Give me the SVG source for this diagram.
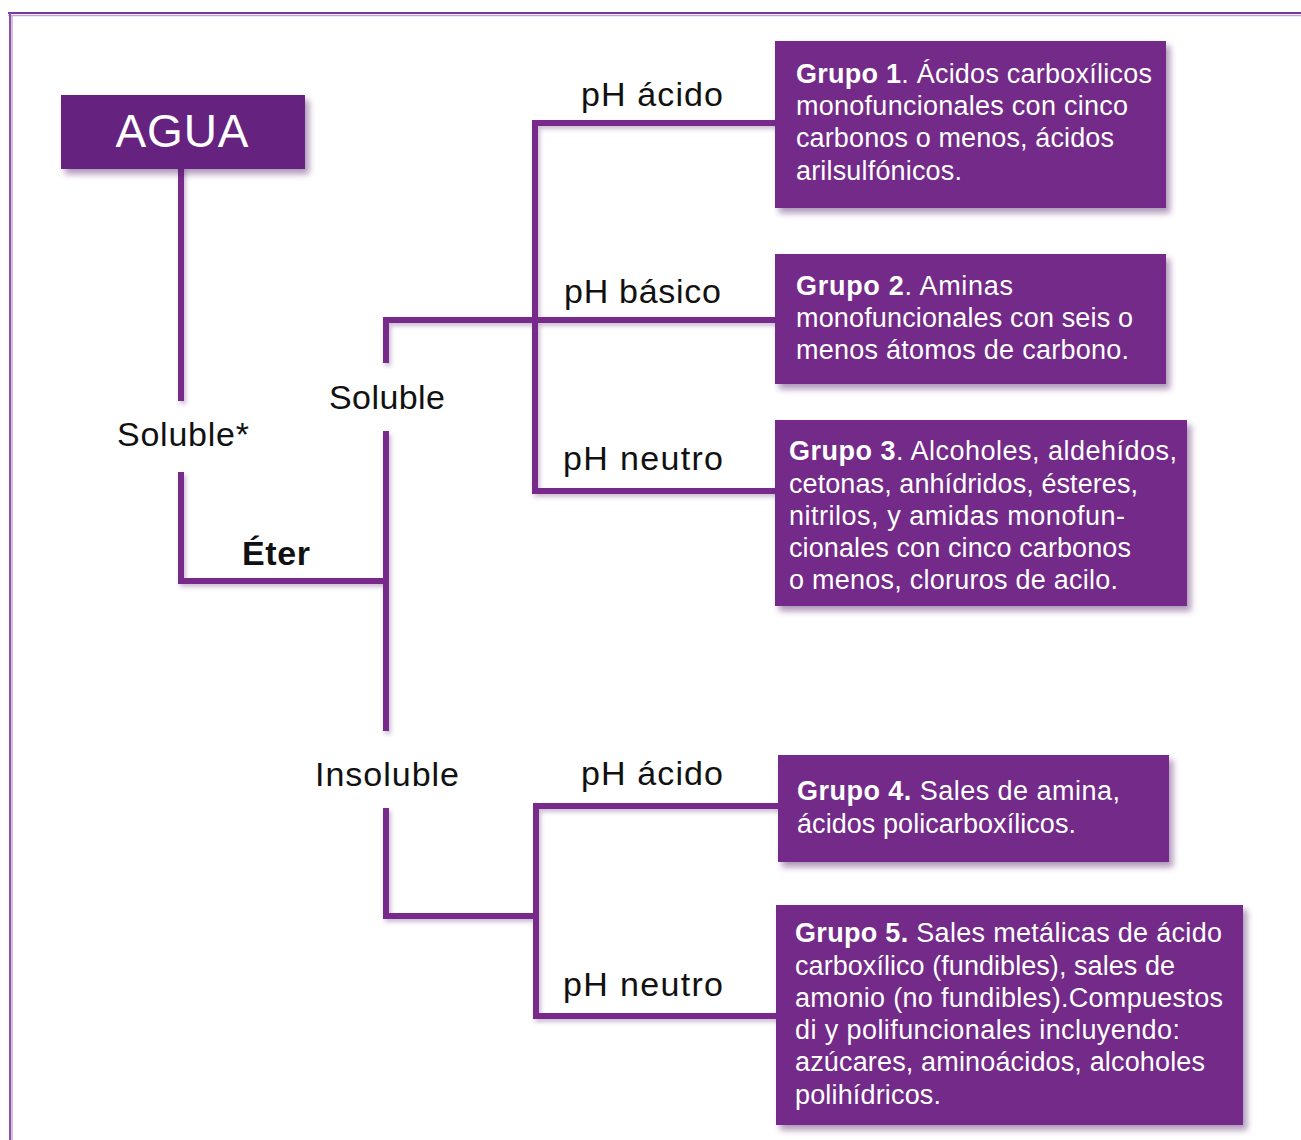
<svg xmlns="http://www.w3.org/2000/svg" width="1301" height="1140" viewBox="0 0 1301 1140">
<defs>
<filter id="sh" x="-10%" y="-10%" width="125%" height="130%">
<feDropShadow dx="4" dy="5" stdDeviation="3" flood-color="#4a1a60" flood-opacity="0.45"/>
</filter>
<filter id="lsh" x="-20%" y="-20%" width="140%" height="140%">
<feDropShadow dx="2" dy="3" stdDeviation="2" flood-color="#6a3a80" flood-opacity="0.35"/>
</filter>
<style>
.box{fill:#732a88;filter:url(#sh)}
.agua{fill:#66237f;filter:url(#sh)}
.bt{font-family:"Liberation Sans",Arial,sans-serif;font-size:27px;fill:#ffffff}
.b{font-weight:700}
.lbl{font-family:"Liberation Sans",Arial,sans-serif;font-size:34px;fill:#111111}
.ln{fill:none;stroke:#782a8b;stroke-width:6;stroke-linecap:square;stroke-linejoin:miter}
</style>
</defs>
<rect x="0" y="0" width="1301" height="1140" fill="#ffffff"/>
<g id="frame">
<line x1="8" y1="13" x2="1301" y2="13" stroke="#7a3a98" stroke-width="2"/>
<line x1="8" y1="15.5" x2="1301" y2="15.5" stroke="#c3a3d3" stroke-width="1.5"/>
<line x1="10" y1="13" x2="10" y2="1140" stroke="#8a52a8" stroke-width="2"/>
<line x1="12" y1="15" x2="12" y2="1140" stroke="#c9aad8" stroke-width="1.5"/>
</g>
<g id="connectors" filter="url(#lsh)">
<path class="ln" d="M181 169 V398"/>
<path class="ln" d="M181 475 V581 H386"/>
<path class="ln" d="M386 434 V728"/>
<path class="ln" d="M386 360 V320 H773"/>
<path class="ln" d="M773 123 H535 V491 H773"/>
<path class="ln" d="M386 811 V916 H536"/>
<path class="ln" d="M776 806 H536 V1016 H776"/>
</g>
<g id="agua">
<rect class="agua" x="61" y="95" width="244" height="74"/>
<text x="182" y="147" text-anchor="middle" font-family="'Liberation Sans',Arial,sans-serif" font-size="46" fill="#ffffff" textLength="133">AGUA</text>
</g>
<g id="soluble-agua"><text class="lbl" x="117" y="446" textLength="132">Soluble*</text></g>
<g id="eter"><text class="lbl b" x="242" y="565" textLength="68">Éter</text></g>
<g id="soluble-eter"><text class="lbl" x="329" y="409" textLength="116">Soluble</text></g>
<g id="insoluble-eter"><text class="lbl" x="315" y="786" textLength="144">Insoluble</text></g>
<g id="ph-acido-1"><text class="lbl" x="581" y="106" textLength="142">pH ácido</text></g>
<g id="ph-basico"><text class="lbl" x="564" y="303" textLength="157">pH básico</text></g>
<g id="ph-neutro-1"><text class="lbl" x="563" y="470" textLength="160">pH neutro</text></g>
<g id="ph-acido-2"><text class="lbl" x="581" y="785" textLength="142">pH ácido</text></g>
<g id="ph-neutro-2"><text class="lbl" x="563" y="996" textLength="160">pH neutro</text></g>
<g id="grupo1">
<rect class="box" x="775" y="41" width="391" height="167"/>
<text class="bt" x="796" y="83" textLength="356"><tspan class="b">Grupo 1</tspan>. Ácidos carboxílicos</text>
<text class="bt" x="796" y="115" textLength="332">monofuncionales con cinco</text>
<text class="bt" x="796" y="147" textLength="318">carbonos o menos, ácidos</text>
<text class="bt" x="796" y="180" textLength="166">arilsulfónicos.</text>
</g>
<g id="grupo2">
<rect class="box" x="775" y="254" width="391" height="130"/>
<text class="bt" x="796" y="295" textLength="217"><tspan class="b">Grupo 2</tspan>. Aminas</text>
<text class="bt" x="796" y="327" textLength="337">monofuncionales con seis o</text>
<text class="bt" x="796" y="359" textLength="333">menos átomos de carbono.</text>
</g>
<g id="grupo3">
<rect class="box" x="775" y="420" width="412" height="186"/>
<text class="bt" x="789" y="460" textLength="388"><tspan class="b">Grupo 3</tspan>. Alcoholes, aldehídos,</text>
<text class="bt" x="789" y="493" textLength="349">cetonas, anhídridos, ésteres,</text>
<text class="bt" x="789" y="525" textLength="336">nitrilos, y amidas monofun-</text>
<text class="bt" x="789" y="557" textLength="342">cionales con cinco carbonos</text>
<text class="bt" x="789" y="589" textLength="329">o menos, cloruros de acilo.</text>
</g>
<g id="grupo4">
<rect class="box" x="778" y="755" width="391" height="107"/>
<text class="bt" x="797" y="800" textLength="323"><tspan class="b">Grupo 4.</tspan> Sales de amina,</text>
<text class="bt" x="797" y="833" textLength="279">ácidos policarboxílicos.</text>
</g>
<g id="grupo5">
<rect class="box" x="776" y="905" width="467" height="220"/>
<text class="bt" x="795" y="942" textLength="427"><tspan class="b">Grupo 5.</tspan> Sales metálicas de ácido</text>
<text class="bt" x="795" y="975" textLength="380">carboxílico (fundibles), sales de</text>
<text class="bt" x="795" y="1007" textLength="428">amonio (no fundibles).Compuestos</text>
<text class="bt" x="795" y="1039" textLength="385">di y polifuncionales incluyendo:</text>
<text class="bt" x="795" y="1071" textLength="410">azúcares, aminoácidos, alcoholes</text>
<text class="bt" x="795" y="1104" textLength="146">polihídricos.</text>
</g>
</svg>
